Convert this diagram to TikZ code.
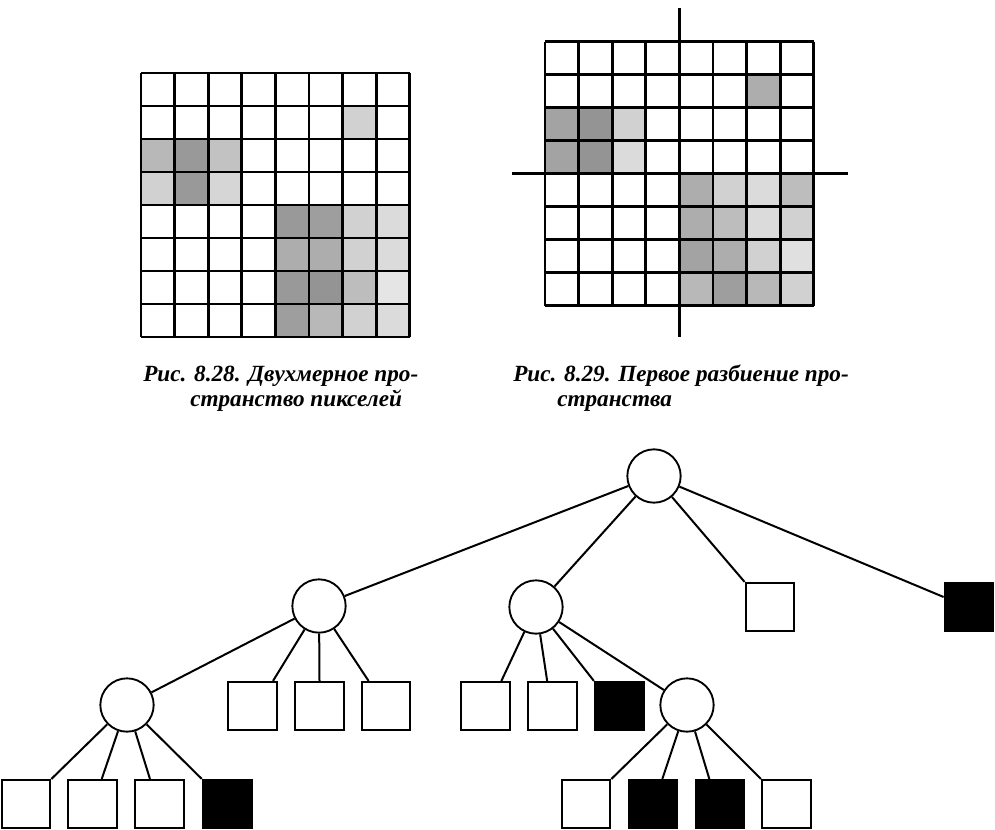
\documentclass[tikz,border=0pt]{standalone}
\usepackage{fontspec}
\setmainfont{Liberation Serif}
\begin{document}
\begin{tikzpicture}[x=0.75pt,y=-0.75pt,
  gridline/.style={line width=2.1pt},
  axisline/.style={line width=2.6pt},
  edge/.style={line width=1.5pt},
  inode/.style={circle,draw,line width=1.4pt,minimum size=40pt,inner sep=0pt},
  wleaf/.style={rectangle,draw,line width=1.6pt,minimum width=36.5pt,minimum height=36pt,inner sep=0pt,fill=white},
  bleaf/.style={wleaf,fill=black},
  captext/.style={anchor=base west,inner sep=0pt,font=\fontsize{17.4}{20}\selectfont\bfseries\itshape}
]
\useasboundingbox (0,0) rectangle (995,830);

% ---------- Grid 1 ----------
\def\gx{141}\def\gy{73}\def\cw{33.6}\def\ch{33}
\foreach \r/\c/\s in {1/6/18, 2/0/28, 2/1/40, 2/2/24, 3/0/18, 3/1/40, 3/2/16,
  4/4/40, 4/5/38, 4/6/18, 4/7/14, 5/4/32, 5/5/32, 5/6/18, 5/7/14,
  6/4/40, 6/5/42, 6/6/26, 6/7/10, 7/4/38, 7/5/28, 7/6/18, 7/7/14}
  \fill[black!\s] (\gx+\c*\cw,\gy+\r*\ch) rectangle ++(\cw,\ch);
\foreach \i in {0,...,8} {
  \draw[gridline] (\gx+\i*\cw,\gy) -- (\gx+\i*\cw,\gy+8*\ch);
  \draw[gridline] (\gx,\gy+\i*\ch) -- (\gx+8*\cw,\gy+\i*\ch);
}

% ---------- Grid 2 ----------
\def\hx{545}\def\hy{41.7}
\foreach \r/\c/\s in {1/6/32, 2/0/36, 2/1/42, 2/2/18, 3/0/36, 3/1/42, 3/2/14,
  4/4/32, 4/5/18, 4/6/14, 4/7/26, 5/4/32, 5/5/26, 5/6/14, 5/7/18,
  6/4/36, 6/5/32, 6/6/18, 6/7/12, 7/4/28, 7/5/38, 7/6/28, 7/7/18}
  \fill[black!\s] (\hx+\c*\cw,\hy+\r*\ch) rectangle ++(\cw,\ch);
\foreach \i in {0,...,8} {
  \draw[gridline] (\hx+\i*\cw,\hy) -- (\hx+\i*\cw,\hy+8*\ch);
  \draw[gridline] (\hx,\hy+\i*\ch) -- (\hx+8*\cw,\hy+\i*\ch);
}
\draw[axisline] (\hx+4*\cw,8) -- (\hx+4*\cw,337);
\draw[axisline] (512,\hy+4*\ch) -- (848,\hy+4*\ch);

% ---------- Captions ----------
\node[captext] (c1a) at (143,381) {Рис. 8.28. Двухмерное про-};
\node[captext] (c1b) at (190,406) {странство пикселей};
\node[captext] (c2a) at (513,381) {Рис. 8.29. Первое разбиение про-};
\node[captext] (c2b) at (557,406) {странства};

% ---------- Tree ----------
\node[inode] (R) at (654,476) {};
\node[inode] (A) at (319,606) {};
\node[inode] (B) at (536,607) {};
\node[wleaf] (W1) at (770,607) {};
\node[bleaf] (K1) at (969,607) {};
\node[inode] (C) at (127,705) {};
\node[inode] (D) at (687,705) {};
\node[wleaf] (a1) at (252.6,706) {};
\node[wleaf] (a2) at (319.5,706) {};
\node[wleaf] (a3) at (386,706) {};
\node[wleaf] (b1) at (485.3,706) {};
\node[wleaf] (b2) at (552.5,706) {};
\node[bleaf] (b3) at (619.3,706) {};
\node[wleaf] (c1) at (26,804) {};
\node[wleaf] (c2) at (92.4,804) {};
\node[wleaf] (c3) at (159.3,804) {};
\node[bleaf] (c4) at (227.2,804) {};
\node[wleaf] (d1) at (586,804) {};
\node[bleaf] (d2) at (653,804) {};
\node[bleaf] (d3) at (720,804) {};
\node[wleaf] (d4) at (786.3,804) {};

\draw[edge] (R) -- (A);
\draw[edge] (R) -- (B);
\draw[edge] (R) -- (W1.north west);
\draw[edge] (R) -- ([yshift=7.5pt]K1.west);
\draw[edge] (A) -- (C);
\draw[edge] (A) -- ([xshift=-3.75pt]a1.north east);
\draw[edge] (A) -- (a2.north);
\draw[edge] (A) -- ([xshift=6pt]a3.north west);
\draw[edge] (B) -- ([xshift=-7pt]b1.north east);
\draw[edge] (B) -- ([xshift=-4pt]b2.north);
\draw[edge] (B) -- (b3.north west);
\draw[edge] (B) -- (D);
\draw[edge] (C) -- (c1.north east);
\draw[edge] (C) -- ([xshift=7pt]c2.north);
\draw[edge] (C) -- ([xshift=-7pt]c3.north);
\draw[edge] (C) -- (c4.north west);
\draw[edge] (D) -- (d1.north east);
\draw[edge] (D) -- ([xshift=7pt]d2.north);
\draw[edge] (D) -- ([xshift=-8pt]d3.north);
\draw[edge] (D) -- (d4.north west);
\end{tikzpicture}
\end{document}
